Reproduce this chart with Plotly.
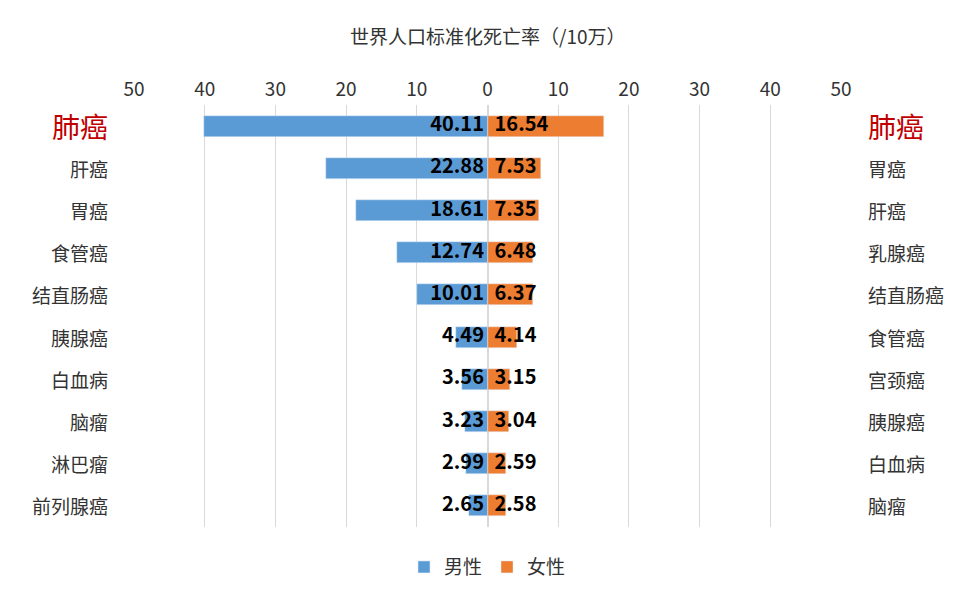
import plotly.graph_objects as go

male_labels = ["肺癌", "肝癌", "胃癌", "食管癌", "结直肠癌", "胰腺癌", "白血病", "脑瘤", "淋巴瘤", "前列腺癌"]
male_values = [40.11, 22.88, 18.61, 12.74, 10.01, 4.49, 3.56, 3.23, 2.99, 2.65]
female_labels = ["肺癌", "胃癌", "肝癌", "乳腺癌", "结直肠癌", "食管癌", "宫颈癌", "胰腺癌", "白血病", "脑瘤"]
female_values = [16.54, 7.53, 7.35, 6.48, 6.37, 4.14, 3.15, 3.04, 2.59, 2.58]
tick_vals = [-50, -40, -30, -20, -10, 0, 10, 20, 30, 40, 50]
tick_text = ["50", "40", "30", "20", "10", "0", "10", "20", "30", "40", "50"]

rows = list(range(len(male_values)))
font = "Noto Sans CJK SC"

fig = go.Figure()
fig.add_trace(go.Bar(y=rows, x=[-v for v in male_values], orientation="h", name="男性",
                     marker_color="#5B9BD5", width=0.5))
fig.add_trace(go.Bar(y=rows, x=female_values, orientation="h", name="女性",
                     marker_color="#ED7D31", width=0.5))
# value labels around zero
fig.add_trace(go.Scatter(y=rows, x=[-0.5] * len(rows), mode="text", text=[f"{v:.2f}" for v in male_values],
                         textposition="middle left", showlegend=False,
                         textfont=dict(size=20, color="black", family=font, weight="bold")))
fig.add_trace(go.Scatter(y=rows, x=[1] * len(rows), mode="text", text=[f"{v:.2f}" for v in female_values],
                         textposition="middle right", showlegend=False,
                         textfont=dict(size=20, color="black", family=font, weight="bold")))

# category labels on both sides
for i in rows:
    first = i == 0
    fnt = dict(size=28 if first else 19, color="#C00000" if first else "#333333", family=font)
    fig.add_annotation(x=0, xref="paper", y=i, yref="y", text=male_labels[i], showarrow=False,
                       xanchor="right", xshift=-24, font=fnt)
    fig.add_annotation(x=1, xref="paper", y=i, yref="y", text=female_labels[i], showarrow=False,
                       xanchor="left", xshift=25, font=fnt)

fig.add_annotation(x=0.5, xref="paper", y=1.165, yref="paper", yanchor="middle", text="世界人口标准化死亡率（/10万）",
                   showarrow=False, font=dict(size=19, color="#333333", family=font))

fig.update_layout(
    width=972, height=600, barmode="overlay", bargap=0,
    plot_bgcolor="white", paper_bgcolor="white",
    margin=dict(l=126, r=139, t=97, b=81),
    font=dict(family=font, color="#333333"),
    xaxis=dict(range=[-50, 50], tickvals=tick_vals, ticktext=tick_text, side="top",
               showgrid=True, gridcolor="#D9D9D9", zeroline=True, zerolinecolor="#D9D9D9",
               tickfont=dict(size=19), ticklabelstandoff=4, fixedrange=True),
    yaxis=dict(range=[9.5, -0.5], showticklabels=False, showgrid=False, zeroline=False),
    legend=dict(orientation="h", x=0.5, xanchor="center", y=-0.05, yanchor="top",
                font=dict(size=19), traceorder="normal"),
)

fig.write_html("out.html")
